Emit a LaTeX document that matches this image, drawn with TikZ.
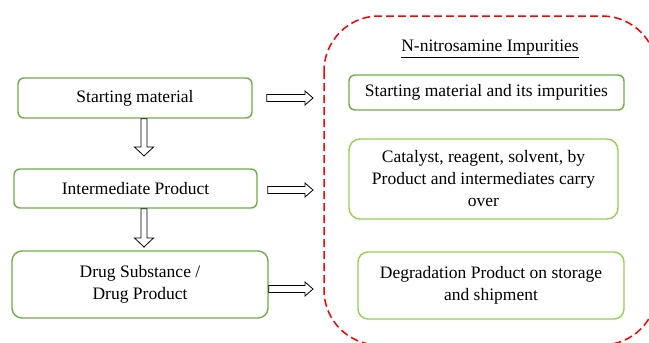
\documentclass[tikz,border=0pt]{standalone}
\usepackage{fontspec}
\setmainfont{Liberation Serif}
\usetikzlibrary{calc}
\definecolor{stageline}{RGB}{112,173,71}
\definecolor{liteline}{RGB}{146,208,80}
\definecolor{zone}{RGB}{255,0,0}
\tikzset{
  stage/.style={rectangle, rounded corners=6pt, draw=stageline, line width=1.4pt, fill=white, inner sep=2pt, align=center, font=\fontsize{17.5}{22}\selectfont},
  source/.style={stage, draw=liteline},
  heading/.style={inner sep=1pt, font=\fontsize{17.5}{22}\selectfont},
  % hollow block arrows, pointing right and down
  rightflow/.style={draw, line width=0.8pt, fill=white, to path={
    let \p1=(\tikztostart), \p2=(\tikztotarget) in
    (\x1,\y1+3.5pt) -- (\x2-8pt,\y1+3.5pt) -- (\x2-8pt,\y1+7pt) -- (\x2,\y1)
    -- (\x2-8pt,\y1-7pt) -- (\x2-8pt,\y1-3.5pt) -- (\x1,\y1-3.5pt) -- cycle}},
  downflow/.style={draw, line width=0.8pt, fill=white, to path={
    let \p1=(\tikztostart), \p2=(\tikztotarget) in
    (\x1-3pt,\y1) -- (\x1-3pt,\y2+9pt) -- (\x1-9.5pt,\y2+9pt) -- (\x1,\y2)
    -- (\x1+9.5pt,\y2+9pt) -- (\x1+3pt,\y2+9pt) -- (\x1+3pt,\y1) -- cycle}},
}

\begin{document}
\begin{tikzpicture}[x=1pt, y=-1pt]
\useasboundingbox (0,0) rectangle (649,343);
% dashed region holding the impurity sources
\begin{scope}
  \clip (0,0) rectangle (649,343);
  \draw[zone, line width=1.5pt, dash pattern=on 8pt off 4pt, rounded corners=55pt] (324,16) rectangle (657,345);
\end{scope}

% process stages
\node[stage, minimum width=234pt, minimum height=40pt] (sm) at (135,98) {Starting material};
\node[stage, minimum width=243pt, minimum height=39pt] (ip) at (135.5,188.5) {Intermediate Product};
\node[stage, rounded corners=10pt, minimum width=256pt, minimum height=67pt] (ds) at (140,284.5) {Drug Substance /\\ Drug Product};

% sources of nitrosamines
\node[heading] (title) at (490,49) {\underline{N-nitrosamine Impurities}};
\node[stage, minimum width=275pt, minimum height=35pt] (r1) at (486.5,92.5) {Starting material and its impurities};
\node[source, rounded corners=11pt, minimum width=269pt, minimum height=80pt] (r2) at (483.5,179) {Catalyst, reagent, solvent, by\\ Product and intermediates carry\\ over};
\node[source, rounded corners=10pt, minimum width=266pt, minimum height=67pt] (r3) at (491,285.5) {Degradation Product on storage\\ and shipment};

% arrow ends
\coordinate (d1) at (144,156);
\coordinate (d2) at (144,247);
\coordinate (t1) at (313,98);
\coordinate (t2) at (313,190);
\coordinate (t3) at (313,289);

\draw[downflow] ([xshift=9pt]sm.south) to (d1);
\draw[downflow] ([xshift=8.5pt]ip.south) to (d2);
\draw[rightflow] ([xshift=14pt]sm.east) to (t1);
\draw[rightflow] ([xshift=10pt]ip.east |- t2) to (t2);
\draw[rightflow] (ds.east |- t3) to (t3);
\end{tikzpicture}
\end{document}
